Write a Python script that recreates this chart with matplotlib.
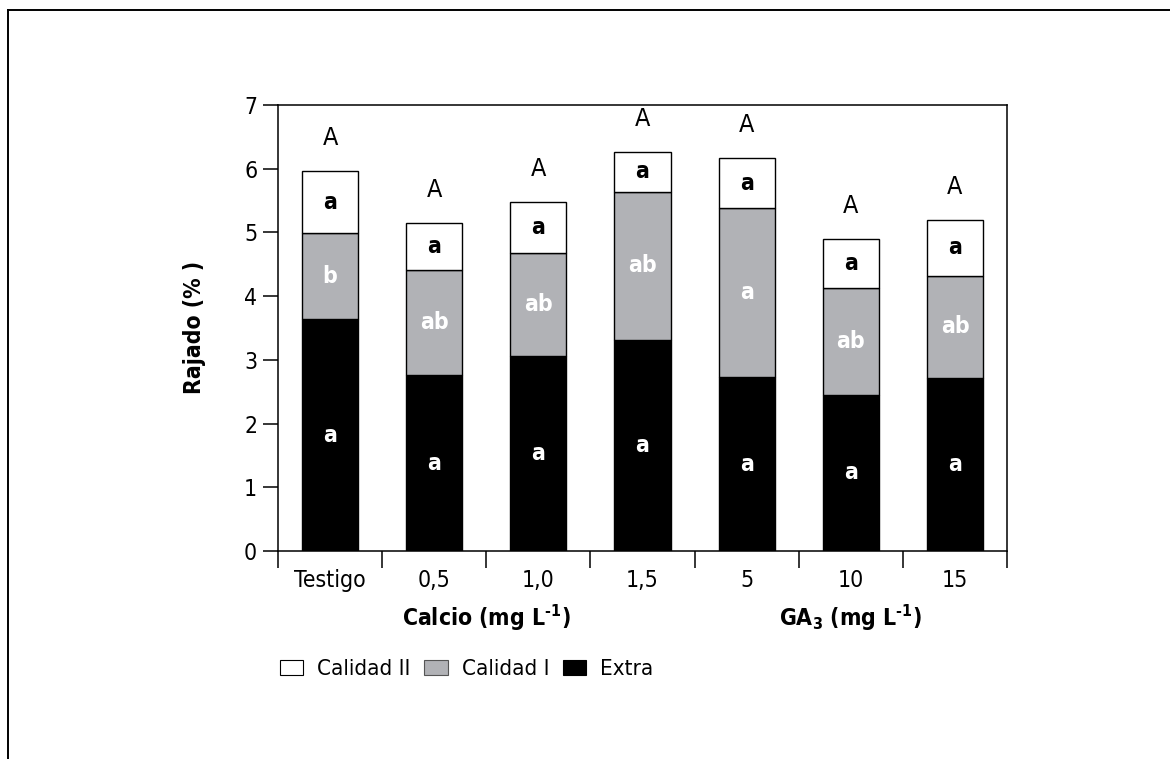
#!/usr/bin/env python3
"""
Stacked bars of cracked fruit (%) by quality class for calcium and GA3 doses
"""

import matplotlib
matplotlib.use('Agg')
import matplotlib.pyplot as plt
from matplotlib.patches import Patch
from matplotlib.lines import Line2D

# Treatments and stacked values (%)
categories = ['Testigo', '0,5', '1,0', '1,5', '5', '10', '15']
extra = [3.64, 2.76, 3.06, 3.31, 2.73, 2.45, 2.72]
calidad_1 = [1.35, 1.65, 1.62, 2.33, 2.65, 1.68, 1.60]
calidad_2 = [0.97, 0.74, 0.80, 0.62, 0.79, 0.77, 0.88]

# Significance letters per segment and per total
letters_extra = ['a', 'a', 'a', 'a', 'a', 'a', 'a']
letters_cal1 = ['b', 'ab', 'ab', 'ab', 'a', 'ab', 'ab']
letters_cal2 = ['a', 'a', 'a', 'a', 'a', 'a', 'a']
letters_total = ['A', 'A', 'A', 'A', 'A', 'A', 'A']

yticks = [0, 1, 2, 3, 4, 5, 6, 7]
series_names = ['Calidad II', 'Calidad I', 'Extra']

GRAY = '#b1b2b6'
HYPHEN = '\u2010'

plt.rcParams['font.family'] = ['DejaVu Sans']
plt.rcParams['font.stretch'] = 'condensed'
plt.rcParams['mathtext.fontset'] = 'custom'
plt.rcParams['mathtext.rm'] = 'DejaVu Sans'
plt.rcParams['mathtext.bf'] = 'DejaVu Sans:bold'
plt.rcParams['axes.linewidth'] = 1.1

fig = plt.figure(figsize=(11.7, 7.59), dpi=100)
ax = fig.add_axes([0.2376, 0.2740, 0.6231, 0.5876])

x = list(range(len(categories)))
width = 0.54
bar_kw = dict(width=width, edgecolor='black', linewidth=1.0, zorder=2)

ax.bar(x, extra, color='black', **bar_kw)
ax.bar(x, calidad_1, bottom=extra, color=GRAY, **bar_kw)
mid_base = [e + c for e, c in zip(extra, calidad_1)]
ax.bar(x, calidad_2, bottom=mid_base, color='white', **bar_kw)

# letters inside each segment
for i in x:
    ax.text(i, extra[i] / 2, letters_extra[i], ha='center', va='center',
            fontsize=16.5, fontweight='bold', color='white')
    ax.text(i, extra[i] + calidad_1[i] / 2, letters_cal1[i], ha='center',
            va='center', fontsize=16.5, fontweight='bold', color='white')
    ax.text(i, mid_base[i] + calidad_2[i] / 2, letters_cal2[i], ha='center',
            va='center', fontsize=16.5, fontweight='bold', color='black')
    total = mid_base[i] + calidad_2[i]
    ax.text(i, total + 0.52, letters_total[i], ha='center', va='center',
            fontsize=18, color='black')

ax.set_xlim(-0.5, len(categories) - 0.5)
ax.set_ylim(0, 7)
ax.set_yticks(yticks)
ax.set_yticklabels([str(v) for v in yticks])
ax.tick_params(axis='y', direction='out', length=11, width=1.1, pad=4,
               labelsize=16.5)

ax.set_xticks(x)
ax.set_xticklabels(categories)
ax.set_xticks([i - 0.5 for i in range(len(categories) + 1)], minor=True)
ax.tick_params(axis='x', which='major', length=0, pad=13, labelsize=16.5)
ax.tick_params(axis='x', which='minor', direction='out', length=12, width=1.1)

# group labels under the treatment names
sup = r'$^{\mathbf{' + HYPHEN + r'1}}$'
ax.text(1.5, -0.150, 'Calcio (mg L' + sup + ')', transform=ax.get_xaxis_transform(),
        ha='center', va='center', fontsize=16.5, fontweight='bold')
ax.text(5.0, -0.150, r'GA$_{\mathbf{3}}$ (mg L' + sup + ')', transform=ax.get_xaxis_transform(),
        ha='center', va='center', fontsize=16.5, fontweight='bold')

fig.text(195 / 1170, 1 - 327 / 759, 'Rajado (% )', rotation=90, ha='center',
         va='center', fontsize=16.5, fontweight='bold')

handles = [Patch(facecolor='white', edgecolor='black', linewidth=0.8),
           Patch(facecolor=GRAY, edgecolor='#555555', linewidth=0.8),
           Patch(facecolor='black', edgecolor='black', linewidth=0.8)]
fig.legend(handles, series_names, loc='center left', bbox_to_anchor=(280 / 1170, 1 - 669 / 759),
           ncol=3, frameon=False, fontsize=16, handlelength=1.04, handleheight=0.68,
           handletextpad=0.63, columnspacing=0.63, borderpad=0, borderaxespad=0)

# page frame (top and left edges)
fig.add_artist(Line2D([8 / 1170, 1.0], [1 - 10 / 759, 1 - 10 / 759],
                      transform=fig.transFigure, color='black', linewidth=1.4))
fig.add_artist(Line2D([8 / 1170, 8 / 1170], [0.0, 1 - 10 / 759],
                      transform=fig.transFigure, color='black', linewidth=1.4))

fig.savefig('out.png', dpi=100)
plt.close(fig)
